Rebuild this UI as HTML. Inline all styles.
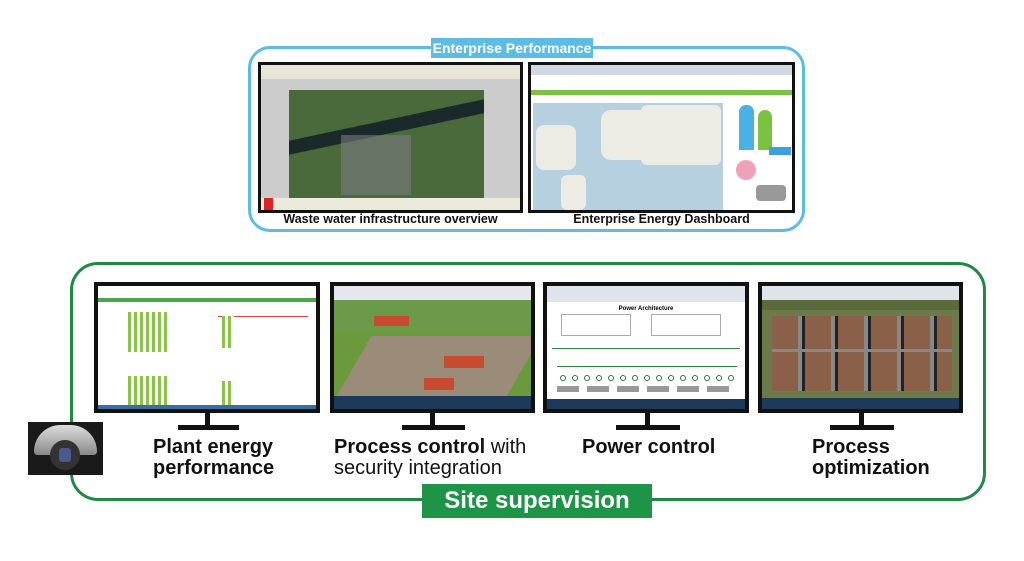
<!DOCTYPE html>
<html><head><meta charset="utf-8"><style>
*{margin:0;padding:0;box-sizing:border-box}
body{width:1024px;height:561px;background:#fff;position:relative;overflow:hidden;font-family:"Liberation Sans",Arial,sans-serif}
.a{position:absolute}
.scr{position:absolute;border:3px solid #111;overflow:hidden}
.mon{position:absolute;border:4px solid #111;overflow:hidden}
.neck{position:absolute;width:5px;background:#111}
.base{position:absolute;height:5px;background:#111}
.cap{position:absolute;font-size:20px;font-weight:bold;color:#111;line-height:21px;text-align:left;white-space:nowrap}
</style></head><body>
<!-- top box -->
<div class="a" style="left:248px;top:46px;width:557px;height:186px;border:3px solid #5bbde6;border-radius:22px"></div>
<div class="a" style="left:431px;top:38px;width:162px;height:20px;background:#5bbde6;color:#fff;font-weight:bold;font-size:14px;text-align:center;line-height:20px;white-space:nowrap">Enterprise Performance</div>
<!-- left screenshot -->
<div class="scr" style="left:258px;top:62px;width:265px;height:151px;background:#ccc">
 <div class="a" style="left:0;top:0;width:259px;height:14px;background:#e8e4d8"></div>
 <div class="a" style="left:28px;top:25px;width:195px;height:108px;background:#4a6a3c"></div>
 <div class="a" style="left:28px;top:55px;width:195px;height:14px;background:#1a2a2a;transform:skewY(-12deg)"></div>
 <div class="a" style="left:80px;top:70px;width:70px;height:60px;background:#7a7a80;opacity:.6"></div>
 <div class="a" style="left:0;top:133px;width:259px;height:12px;background:#eceadc"></div>
 <div class="a" style="left:3px;top:133px;width:9px;height:12px;background:#d22"></div>
</div>
<!-- right screenshot -->
<div class="scr" style="left:528px;top:62px;width:267px;height:151px;background:#fff">
 <div class="a" style="left:0;top:0;width:261px;height:10px;background:#cfd8e4"></div>
 <div class="a" style="left:0;top:25px;width:261px;height:5px;background:#7cc242"></div>
 <div class="a" style="left:2px;top:38px;width:190px;height:107px;background:#b6d0e0"></div>
 <div class="a" style="left:70px;top:45px;width:60px;height:50px;background:#ecebe4;border-radius:10px"></div>
 <div class="a" style="left:5px;top:60px;width:40px;height:45px;background:#ecebe4;border-radius:8px"></div>
 <div class="a" style="left:110px;top:40px;width:80px;height:60px;background:#ecebe4;border-radius:6px"></div>
 <div class="a" style="left:30px;top:110px;width:25px;height:35px;background:#ecebe4;border-radius:6px"></div>
 <div class="a" style="left:208px;top:40px;width:15px;height:45px;background:#4bb0e4;border-radius:7px 7px 0 0"></div>
 <div class="a" style="left:227px;top:45px;width:14px;height:40px;background:#7cc242;border-radius:7px 7px 0 0"></div>
 <div class="a" style="left:205px;top:95px;width:20px;height:20px;background:#f0a0b8;border-radius:50%"></div>
 <div class="a" style="left:238px;top:82px;width:22px;height:8px;background:#3aa0e0"></div>
 <div class="a" style="left:225px;top:120px;width:30px;height:16px;background:#999;border-radius:4px"></div>
</div>
<div class="a" style="left:258px;top:212px;width:265px;text-align:center;font-size:12.5px;font-weight:bold;color:#111">Waste water infrastructure overview</div>
<div class="a" style="left:528px;top:212px;width:267px;text-align:center;font-size:12.5px;font-weight:bold;color:#111">Enterprise Energy Dashboard</div>

<!-- bottom box -->
<div class="a" style="left:70px;top:262px;width:916px;height:239px;border:3px solid #1e8a44;border-radius:28px"></div>
<div class="a" style="left:422px;top:484px;width:230px;height:34px;background:#1e9447;color:#fff;font-weight:bold;font-size:24px;text-align:center;line-height:34px;white-space:nowrap">Site supervision</div>

<!-- monitor 1 -->
<div class="mon" style="left:94px;top:282px;width:226px;height:131px;background:#fff">
 <div class="a" style="left:0;top:12px;width:218px;height:4px;background:#4ca64c"></div>
 <div class="a" style="left:30px;top:26px;width:40px;height:40px;background:repeating-linear-gradient(90deg,#8bc34a 0 3px,#fff 3px 6px)"></div>
 <div class="a" style="left:30px;top:90px;width:40px;height:35px;background:repeating-linear-gradient(90deg,#8bc34a 0 3px,#fff 3px 6px)"></div>
 <div class="a" style="left:120px;top:30px;width:90px;height:1px;background:#d44"></div>
 <div class="a" style="left:124px;top:30px;width:12px;height:32px;background:repeating-linear-gradient(90deg,#8bc34a 0 3px,#fff 3px 6px)"></div>
 <div class="a" style="left:124px;top:95px;width:12px;height:25px;background:repeating-linear-gradient(90deg,#8bc34a 0 3px,#fff 3px 6px)"></div>
 <div class="a" style="left:0;top:119px;width:218px;height:4px;background:#3a6ea5"></div>
</div>
<div class="neck" style="left:205px;top:413px;height:13px"></div>
<div class="base" style="left:178px;top:425px;width:61px"></div>
<!-- monitor 2 -->
<div class="mon" style="left:330px;top:282px;width:205px;height:131px;background:#6a9a3c">
 <div class="a" style="left:0;top:0;width:197px;height:14px;background:#e4e8ee"></div>
 <div class="a" style="left:0;top:14px;width:197px;height:30px;background:#6b9a4a"></div>
 <div class="a" style="left:20px;top:50px;width:170px;height:60px;background:#9a8c78;transform:skewX(-30deg)"></div>
 <div class="a" style="left:40px;top:30px;width:35px;height:10px;background:#c84a30"></div>
 <div class="a" style="left:110px;top:70px;width:40px;height:12px;background:#c84a30"></div>
 <div class="a" style="left:90px;top:92px;width:30px;height:12px;background:#c84a30"></div>
 <div class="a" style="left:0;top:110px;width:197px;height:13px;background:#1e3a5a"></div>
</div>
<div class="neck" style="left:430px;top:413px;height:13px"></div>
<div class="base" style="left:402px;top:425px;width:63px"></div>
<!-- monitor 3 -->
<div class="mon" style="left:543px;top:282px;width:206px;height:131px;background:#fff">
 <div class="a" style="left:0;top:0;width:198px;height:16px;background:#dfe4ea"></div>
 <div class="a" style="left:0;top:20px;width:198px;text-align:center;font-size:6px;font-weight:bold">Power Architecture</div>
 <div class="a" style="left:14px;top:28px;width:70px;height:22px;border:1px solid #aaa"></div>
 <div class="a" style="left:104px;top:28px;width:70px;height:22px;border:1px solid #aaa"></div>
 <div class="a" style="left:5px;top:62px;width:188px;height:1px;background:#2a8a3a"></div>
 <div class="a" style="left:10px;top:80px;width:180px;height:1px;background:#2a8a3a"></div>
 <div class="a" style="left:10px;top:88px;width:180px;height:8px;background:radial-gradient(circle,#fff 2px,#2a8a3a 2px 3px,transparent 3px) 0 0/12px 8px"></div>
 <div class="a" style="left:10px;top:100px;width:180px;height:6px;background:repeating-linear-gradient(90deg,#999 0 22px,#fff 22px 30px)"></div>
 <div class="a" style="left:0;top:113px;width:198px;height:10px;background:#1e3a5a"></div>
</div>
<div class="neck" style="left:645px;top:413px;height:13px"></div>
<div class="base" style="left:616px;top:425px;width:64px"></div>
<!-- monitor 4 -->
<div class="mon" style="left:758px;top:282px;width:205px;height:131px;background:#6b7a48">
 <div class="a" style="left:0;top:0;width:197px;height:14px;background:#dfe4ea"></div>
 <div class="a" style="left:0;top:14px;width:197px;height:10px;background:#5a6a3a"></div>
 <div class="a" style="left:10px;top:30px;width:180px;height:75px;background:repeating-linear-gradient(90deg,#8a6048 0 26px,#888 26px 30px,#222 30px 33px)"></div>
 <div class="a" style="left:10px;top:63px;width:180px;height:3px;background:#888"></div>
 <div class="a" style="left:0;top:112px;width:197px;height:11px;background:#1e3a5a"></div>
</div>
<div class="neck" style="left:859px;top:413px;height:13px"></div>
<div class="base" style="left:830px;top:425px;width:64px"></div>

<!-- captions -->
<div class="cap" style="left:153px;top:437px">Plant energy<br>performance</div>
<div class="cap" style="left:334px;top:437px">Process control <span style="font-weight:normal">with</span><br><span style="font-weight:normal">security integration</span></div>
<div class="cap" style="left:582px;top:437px">Power control</div>
<div class="cap" style="left:812px;top:437px">Process<br>optimization</div>

<!-- camera -->
<div class="a" style="left:28px;top:422px;width:75px;height:53px;background:#1a1a1a;overflow:hidden">
 <div class="a" style="left:6px;top:3px;width:63px;height:30px;background:linear-gradient(#ddd,#888);border-radius:30px 30px 4px 4px"></div>
 <div class="a" style="left:22px;top:18px;width:30px;height:30px;background:#333;border-radius:50%"></div>
 <div class="a" style="left:31px;top:26px;width:12px;height:14px;background:#4a5a8a;border-radius:3px"></div>
</div>
</body></html>
